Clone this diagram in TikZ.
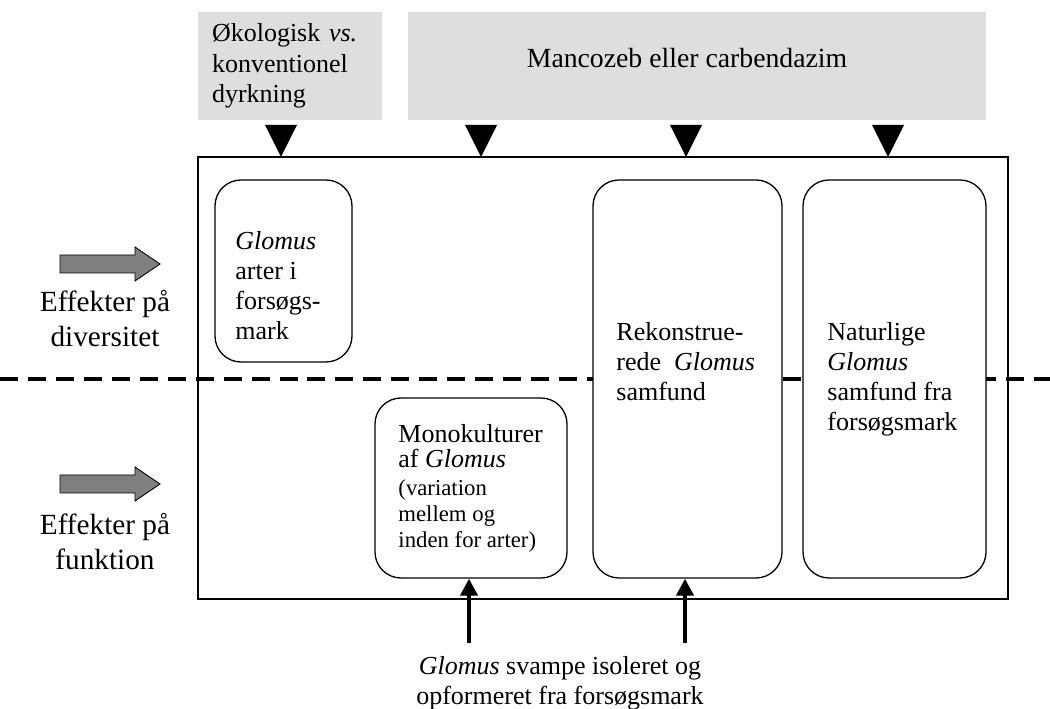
\documentclass[tikz,border=0pt]{standalone}
\usepackage{fontspec}
\setmainfont{Liberation Serif}
\usetikzlibrary{arrows.meta}
\newcommand{\pxu}{0.4615pt}

\tikzset{
  graybox/.style={fill=black!13, draw=none, inner sep=0pt},
  roundbox/.style={draw, fill=white, line width=0.6pt, rounded corners=12pt, inner sep=0pt},
  boxtext/.style={anchor=north west, inner sep=0pt, align=left, font=\fontsize{12}{13.8}\selectfont},
  smalltext/.style={anchor=north west, inner sep=0pt, align=left, font=\fontsize{10.5}{12}\selectfont},
  sidetext/.style={anchor=north, inner sep=0pt, align=center, font=\fontsize{13.5}{16.2}\selectfont},
  blokpil/.style={fill=black!50, draw=black, line width=0.4pt},
  tilpil/.style={line width=1.85pt, -{Triangle[width=7.8pt,length=7.8pt]}},
  skel/.style={line width=2.1pt, dash pattern=on 8.3pt off 4.6pt}
}

\begin{document}
\begin{tikzpicture}[x=\pxu, y=-\pxu]
    \useasboundingbox (0,0) rectangle (1050,709);
    % grå bokse foroven
    \node[graybox, inner xsep=14*\pxu, text width=156*\pxu, minimum height=108*\pxu, align=left,
          font=\fontsize{12}{14.2}\selectfont] (dyrk) at (290,66) {Økologisk \textit{vs.}\\ konventionel\\ dyrkning};
    \node[graybox, minimum width=578*\pxu, minimum height=108*\pxu] (kemi) at (697,66) {};
    \node[inner sep=0pt, font=\fontsize{12.8}{14.7}\selectfont] (kemitxt) at (687,58) {Mancozeb eller carbendazim};

    % ramme og skillelinje
    \node[draw, line width=0.6pt, minimum width=810*\pxu, minimum height=442*\pxu, inner sep=0pt] (ramme) at (603,378) {};
    \draw[skel] (0,379) -- (1050,379); % diversitet / funktion

    % sorte trekanter
    \foreach \tx in {281,481,686,888}
        \fill (\tx-16,125) -- (\tx+16,125) -- (\tx,157) -- cycle;

    % grå pile til venstre
    \foreach \ay in {264,484}
        \draw[blokpil] (60,\ay-9) -- (135,\ay-9) -- (135,\ay-17) -- (160,\ay) -- (135,\ay+17) -- (135,\ay+9) -- (60,\ay+9) -- cycle;
    \node[sidetext] (div) at (105,290) {Effekter på\\ diversitet};
    \node[sidetext] (funk) at (105,513) {Effekter på\\ funktion};

    % afrundede bokse
    \node[roundbox, minimum width=137*\pxu, minimum height=182*\pxu] (artbox) at (283.5,271) {};
    \node[roundbox, minimum width=192*\pxu, minimum height=180*\pxu] (monobox) at (471,488) {};
    \node[roundbox, minimum width=189*\pxu, minimum height=398*\pxu] (rekobox) at (687.5,379) {};
    \node[roundbox, minimum width=183*\pxu, minimum height=398*\pxu] (natbox) at (894.5,379) {};

    \node[boxtext] (arttxt) at (235,231) {\textit{Glomus}\\ arter i\\ forsøgs-\\ mark};
    \node[boxtext, font=\fontsize{12}{11.6}\selectfont] (monotxt) at (398,424) {Monokulturer\\ af \textit{Glomus}};
    \node[smalltext] (monosub) at (398,479) {(variation\\ mellem og\\ inden for arter)};
    \node[boxtext] (rekotxt) at (616,322) {Rekonstrue-\\ rede~ \textit{Glomus}\\ samfund};
    \node[boxtext] (nattxt) at (827,322) {Naturlige\\ \textit{Glomus}\\ samfund fra\\ forsøgsmark};

    % pile nedefra
    \coordinate (kildeA) at (469,643);
    \coordinate (kildeB) at (685,643);
    \draw[tilpil] (kildeA) -- (kildeA |- monobox.south);
    \draw[tilpil] (kildeB) -- (kildeB |- rekobox.south);
    \node[anchor=north, inner sep=0pt, align=center, font=\fontsize{12}{13.8}\selectfont] (kilde) at (560,656)
        {\textit{Glomus} svampe isoleret og\\ opformeret fra forsøgsmark};
\end{tikzpicture}
\end{document}
